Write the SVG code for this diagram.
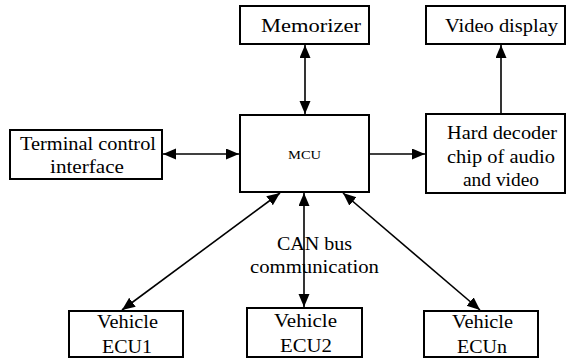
<svg xmlns="http://www.w3.org/2000/svg" width="567" height="360" viewBox="0 0 567 360">
<style>
.box{fill:#fff;stroke:#000;stroke-width:2}
text{font-family:'Liberation Serif',serif;font-size:18px;fill:#000}
.c{stroke:#000;stroke-width:1.6;fill:none;marker-start:url(#ah);marker-end:url(#ah)}
.o{stroke:#000;stroke-width:1.6;fill:none;marker-end:url(#ah)}
</style>
<defs>
<marker id="ah" markerUnits="userSpaceOnUse" markerWidth="14" markerHeight="12" refX="13" refY="5.5" orient="auto-start-reverse" viewBox="0 0 14 12">
<path d="M0,0 L13,5.5 L0,11 z" fill="#000"/>
</marker>
</defs>
<rect width="567" height="360" fill="#fff"/>
<g id="connectors">
<line class="c" x1="305" y1="45" x2="305" y2="114"/>
<line class="c" x1="163" y1="154" x2="239" y2="154"/>
<line class="o" x1="370" y1="154" x2="425" y2="154"/>
<line class="o" x1="501" y1="113" x2="501" y2="45"/>
<line class="c" x1="280" y1="193" x2="122" y2="310"/>
<line class="c" x1="304" y1="193" x2="304" y2="307"/>
<line class="c" x1="343" y1="193" x2="480" y2="310"/>
</g>
<g id="memorizer">
<rect class="box" x="240" y="6" width="129" height="38"/>
<text font-family="Liberation Serif, serif" x="261" y="32" textLength="100" lengthAdjust="spacingAndGlyphs">Memorizer</text>
</g>
<g id="video-display">
<rect class="box" x="426" y="6" width="139" height="38"/>
<text font-family="Liberation Serif, serif" x="445" y="32" textLength="113" lengthAdjust="spacingAndGlyphs">Video display</text>
</g>
<g id="mcu">
<rect class="box" x="240" y="115" width="129" height="77"/>
<text font-family="Liberation Serif, serif" x="288" y="159" textLength="33" lengthAdjust="spacingAndGlyphs" style="font-size:13px">MCU</text>
</g>
<g id="terminal">
<rect class="box" x="10" y="130" width="152" height="49"/>
<text font-family="Liberation Serif, serif" x="20" y="150" textLength="136" lengthAdjust="spacingAndGlyphs">Terminal control</text>
<text font-family="Liberation Serif, serif" x="50" y="173" textLength="74" lengthAdjust="spacingAndGlyphs">interface</text>
</g>
<g id="decoder">
<rect class="box" x="426" y="114" width="139" height="79"/>
<text font-family="Liberation Serif, serif" x="447" y="139" textLength="110" lengthAdjust="spacingAndGlyphs">Hard decoder</text>
<text font-family="Liberation Serif, serif" x="447" y="163" textLength="108" lengthAdjust="spacingAndGlyphs">chip of audio</text>
<text font-family="Liberation Serif, serif" x="463" y="186" textLength="76" lengthAdjust="spacingAndGlyphs">and video</text>
</g>
<g id="can-label">
<text font-family="Liberation Serif, serif" x="277" y="250" textLength="75" lengthAdjust="spacingAndGlyphs">CAN bus</text>
<text font-family="Liberation Serif, serif" x="250" y="273" textLength="129" lengthAdjust="spacingAndGlyphs">communication</text>
</g>
<g id="ecu1">
<rect class="box" x="69" y="311" width="114" height="46"/>
<text font-family="Liberation Serif, serif" x="97" y="328" textLength="61" lengthAdjust="spacingAndGlyphs">Vehicle</text>
<text font-family="Liberation Serif, serif" x="102" y="353" textLength="50" lengthAdjust="spacingAndGlyphs">ECU1</text>
</g>
<g id="ecu2">
<rect class="box" x="247" y="308" width="115" height="49"/>
<text font-family="Liberation Serif, serif" x="274" y="327" textLength="63" lengthAdjust="spacingAndGlyphs">Vehicle</text>
<text font-family="Liberation Serif, serif" x="280" y="352" textLength="52" lengthAdjust="spacingAndGlyphs">ECU2</text>
</g>
<g id="ecun">
<rect class="box" x="424" y="311" width="114" height="46"/>
<text font-family="Liberation Serif, serif" x="452" y="328" textLength="61" lengthAdjust="spacingAndGlyphs">Vehicle</text>
<text font-family="Liberation Serif, serif" x="457" y="353" textLength="50" lengthAdjust="spacingAndGlyphs">ECUn</text>
</g>
</svg>
